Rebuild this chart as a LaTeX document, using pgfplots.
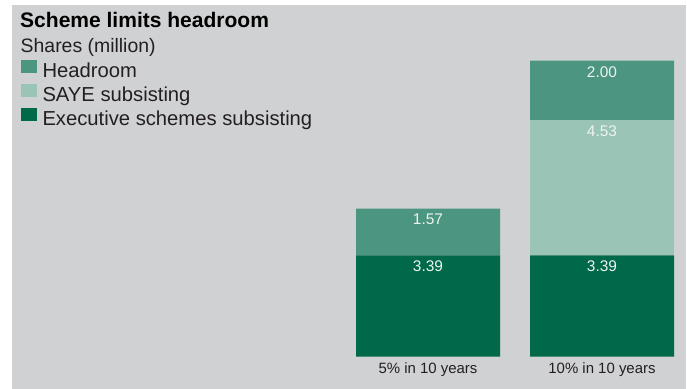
\documentclass[border=0pt]{standalone}
\usepackage{fontspec}
\setmainfont{Liberation Sans}
\usepackage{pgfplots}
\pgfplotsset{compat=1.18}
\definecolor{bg}{HTML}{D0D1D3}
\definecolor{exec}{HTML}{00694A}
\definecolor{saye}{HTML}{99C4B6}
\definecolor{head}{HTML}{4C9580}
\definecolor{txt}{HTML}{231F20}
\definecolor{vlab}{HTML}{EEF3F1}
\begin{document}
\begin{tikzpicture}[
  vl/.style={anchor=north, inner sep=0, yshift=-5.5bp, text=vlab, font=\fontsize{15.5}{18}\selectfont},
  cl/.style={anchor=base, inner sep=0, yshift=-16.7bp, font=\fontsize{15}{18}\selectfont, text=txt},
]
\useasboundingbox (0,0) rectangle (687bp,389bp);
\fill[white] (0,0) rectangle (687bp,389bp);
\fill[bg] (12bp,0) rectangle (686bp,384bp);
\node[anchor=base west, inner sep=0, font=\fontsize{21.1}{24}\selectfont\bfseries] at (20bp,361bp) {Scheme limits headroom};
\node[anchor=base west, inner sep=0, font=\fontsize{19.5}{24}\selectfont, text=txt] at (20.5bp,336bp) {Shares (million)};
\begin{axis}[
  at={(12bp,0)}, anchor=south west,
  scale only axis, width=674bp, height=384bp,
  xmin=-2.3908, xmax=1.48276, ymin=-1.082, ymax=11.78,
  hide axis,
  ybar stacked, bar width=144bp,
  legend style={at={(0,1)}, anchor=north west, xshift=9bp, yshift=-55bp,
    draw=none, fill=none, inner sep=0, outer sep=0, row sep=2bp,
    font=\fontsize{20.3}{24}\selectfont, text=txt,
    nodes={inner sep=0, text height=14bp, text depth=4bp},
    /tikz/every odd column/.append style={column sep=6bp}},
  legend cell align=left,
  legend image code/.code={\fill[#1] (0bp,-0.5bp) rectangle (15.5bp,13bp);},
  reverse legend,
]
\addplot[fill=exec, draw=none] coordinates {(0,3.39) (1,3.39)};
\addplot[fill=saye, draw=none] coordinates {(0,0) (1,4.53)};
\addplot[fill=head, draw=none] coordinates {(0,1.57) (1,2.00)};
\legend{Executive schemes subsisting, SAYE subsisting, Headroom}
\coordinate (a1) at (axis cs:0,3.39);
\coordinate (a2) at (axis cs:0,4.96);
\coordinate (b1) at (axis cs:1,3.39);
\coordinate (b2) at (axis cs:1,7.92);
\coordinate (b3) at (axis cs:1,9.92);
\node[cl] at (axis cs:0,0) {5\% in 10 years};
\node[cl] at (axis cs:1,0) {10\% in 10 years};
\end{axis}
\node[vl] at (a1) {3.39};
\node[vl] at (a2) {1.57};
\node[vl] at (b1) {3.39};
\node[vl] at (b2) {4.53};
\node[vl] at (b3) {2.00};
\end{tikzpicture}
\end{document}
